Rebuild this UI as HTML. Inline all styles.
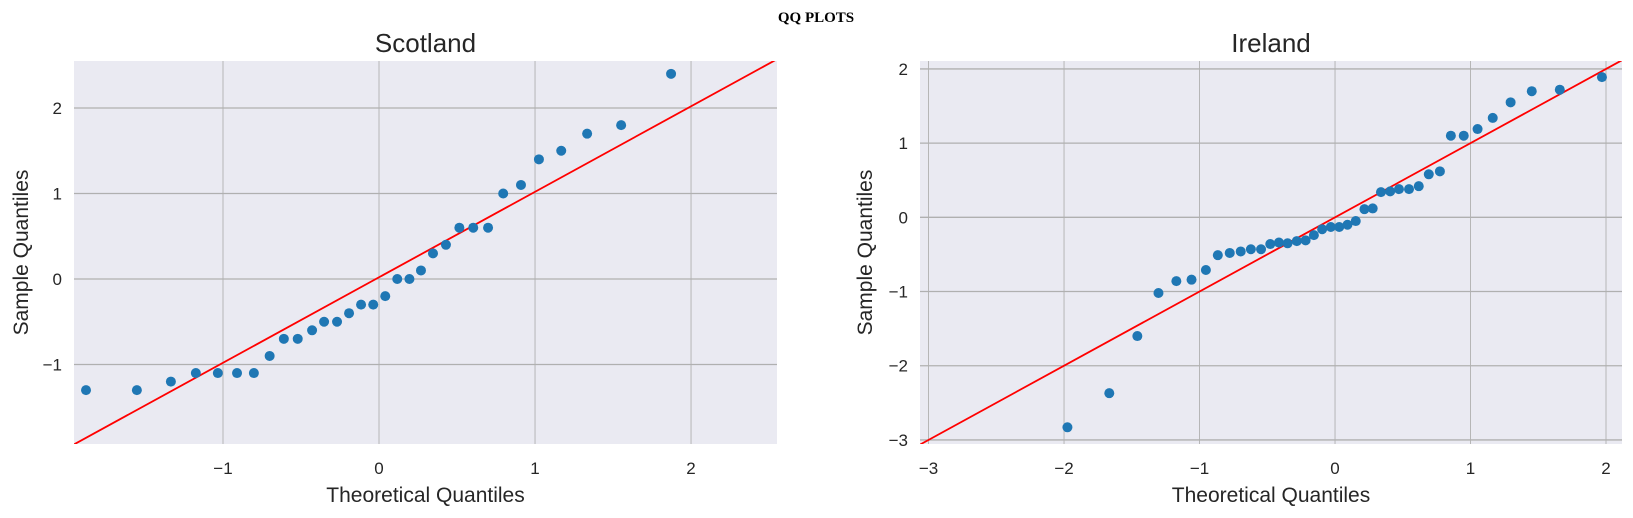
<!DOCTYPE html>
<html><head><meta charset="utf-8"><style>
body{margin:0;background:#fff}
svg{display:block;font-family:"Liberation Sans","DejaVu Sans",sans-serif}
</style></head><body>
<svg id="chart" width="1633" height="518" viewBox="0 0 1633 518">
<text x="816" y="22" text-anchor="middle" font-family="Liberation Serif, serif" font-weight="bold" font-size="15" fill="#000">QQ PLOTS</text>
</svg>
<script>
// Scotland data
const scotTheo = [-1.878,-1.552,-1.334,-1.174,-1.033,-0.910,-0.802,-0.701,-0.610,-0.521,-0.429,-0.352,-0.269,-0.192,-0.115,-0.037,0.040,0.117,0.195,0.269,0.346,0.429,0.515,0.604,0.699,0.796,0.910,1.025,1.168,1.334,1.552,1.872];
const scotSample = [-1.3,-1.3,-1.2,-1.1,-1.1,-1.1,-1.1,-0.9,-0.7,-0.7,-0.6,-0.5,-0.5,-0.4,-0.3,-0.3,-0.2,0,0,0.1,0.3,0.4,0.6,0.6,0.6,1.0,1.1,1.4,1.5,1.7,1.8,2.4];
const scotXTicks = [-1,0,1,2];
const scotYTicks = [-1,0,1,2];
const scotLine = [0.02,1.0]; // intercept, slope
// Ireland data
const ireTheo = [-1.975,-1.666,-1.459,-1.303,-1.171,-1.059,-0.953,-0.865,-0.777,-0.696,-0.621,-0.546,-0.478,-0.414,-0.350,-0.282,-0.217,-0.156,-0.095,-0.031,0.031,0.092,0.153,0.217,0.278,0.339,0.407,0.472,0.546,0.618,0.692,0.774,0.855,0.950,1.052,1.164,1.296,1.452,1.659,1.97];
const ireSample = [-2.83,-2.37,-1.60,-1.02,-0.86,-0.84,-0.71,-0.51,-0.48,-0.46,-0.43,-0.43,-0.36,-0.34,-0.35,-0.32,-0.31,-0.24,-0.16,-0.13,-0.13,-0.10,-0.05,0.11,0.12,0.34,0.35,0.38,0.38,0.42,0.58,0.62,1.10,1.10,1.19,1.34,1.55,1.70,1.72,1.89];
const ireXTicks = [-3,-2,-1,0,1,2];
const ireYTicks = [-3,-2,-1,0,1,2];
const ireLine = [0,1.0];

const NS="http://www.w3.org/2000/svg";
const svg=document.getElementById('chart');
function mk(tag,attrs,parent){const e=document.createElementNS(NS,tag);for(const k in attrs)e.setAttribute(k,attrs[k]);(parent||svg).appendChild(e);return e;}
const fmt=v=>v<0?'\u2212'+Math.abs(v):String(v);

function panel(cfg){
  const g=mk('g',{});
  
  
  const X=v=>cfg.x0+(v-cfg.xmin)/(cfg.xmax-cfg.xmin)*(cfg.x1-cfg.x0);
  const Y=v=>cfg.y1-(v-cfg.ymin)/(cfg.ymax-cfg.ymin)*(cfg.y1-cfg.y0);
  const bg=mk('rect',{x:cfg.x0,y:cfg.y0,width:cfg.x1-cfg.x0,height:cfg.y1-cfg.y0,fill:'#eaeaf2'},g);
  
  
  cfg.xticks.forEach(t=>{
    const l=mk('line',{x1:X(t),x2:X(t),y1:cfg.y0,y2:cfg.y1,stroke:'#b0b0b0','stroke-width':0.9},g);
    
    
    const tx=mk('text',{x:X(t),y:474,'text-anchor':'middle','font-size':17,fill:'#262626'},g);
    tx.textContent=fmt(t);
    
    
  });
  cfg.yticks.forEach(t=>{
    const l=mk('line',{x1:cfg.x0,x2:cfg.x1,y1:Y(t),y2:Y(t),stroke:'#b0b0b0','stroke-width':1.3},g);
    
    
    const tx=mk('text',{x:cfg.x0-12,y:Y(t)+6,'text-anchor':'end','font-size':17,fill:'#262626'},g);
    tx.textContent=fmt(t);
    
    
  });
  const cid='clip-'+cfg.name;
  const cp=mk('clipPath',{id:cid},g);
  mk('rect',{x:cfg.x0,y:cfg.y0,width:cfg.x1-cfg.x0,height:cfg.y1-cfg.y0},cp);
  const a=cfg.line[0],b=cfg.line[1];
  const ln=mk('line',{x1:X(cfg.xmin),y1:Y(a+b*cfg.xmin),x2:X(cfg.xmax),y2:Y(a+b*cfg.xmax),stroke:'#ff0000','stroke-width':1.8,'clip-path':'url(#'+cid+')'},g);
  
  
  cfg.tx.forEach((v,i)=>{
    const c=mk('ellipse',{cx:X(v),cy:Y(cfg.sy[i]),rx:5,ry:5,fill:'#1f77b4'},g);
    
    
  });
  const cx=(cfg.x0+cfg.x1)/2;
  const t=mk('text',{x:cx,y:52,'text-anchor':'middle','font-size':26,fill:'#262626'},g);
  t.textContent=cfg.title;
  
  
  const xl=mk('text',{x:cx,y:502,'text-anchor':'middle','font-size':21,fill:'#262626'},g);
  xl.textContent='Theoretical Quantiles';
  
  
  const yc=(cfg.y0+cfg.y1)/2;
  const yl=mk('text',{x:cfg.ylabX,y:yc,'text-anchor':'middle','font-size':21,fill:'#262626',transform:'rotate(-90 '+cfg.ylabX+' '+yc+')'},g);
  yl.textContent='Sample Quantiles';
  
  
}
panel({name:'scotland',title:'Scotland',x0:74,x1:777,y0:61,y1:444,xmin:-1.955,xmax:2.551,ymin:-1.93,ymax:2.55,xticks:scotXTicks,yticks:scotYTicks,tx:scotTheo,sy:scotSample,line:scotLine,ylabX:28});
panel({name:'ireland',title:'Ireland',x0:920,x1:1622,y0:61,y1:444,xmin:-3.063,xmax:2.118,ymin:-3.055,ymax:2.107,xticks:ireXTicks,yticks:ireYTicks,tx:ireTheo,sy:ireSample,line:ireLine,ylabX:872});
</script>
</body></html>
